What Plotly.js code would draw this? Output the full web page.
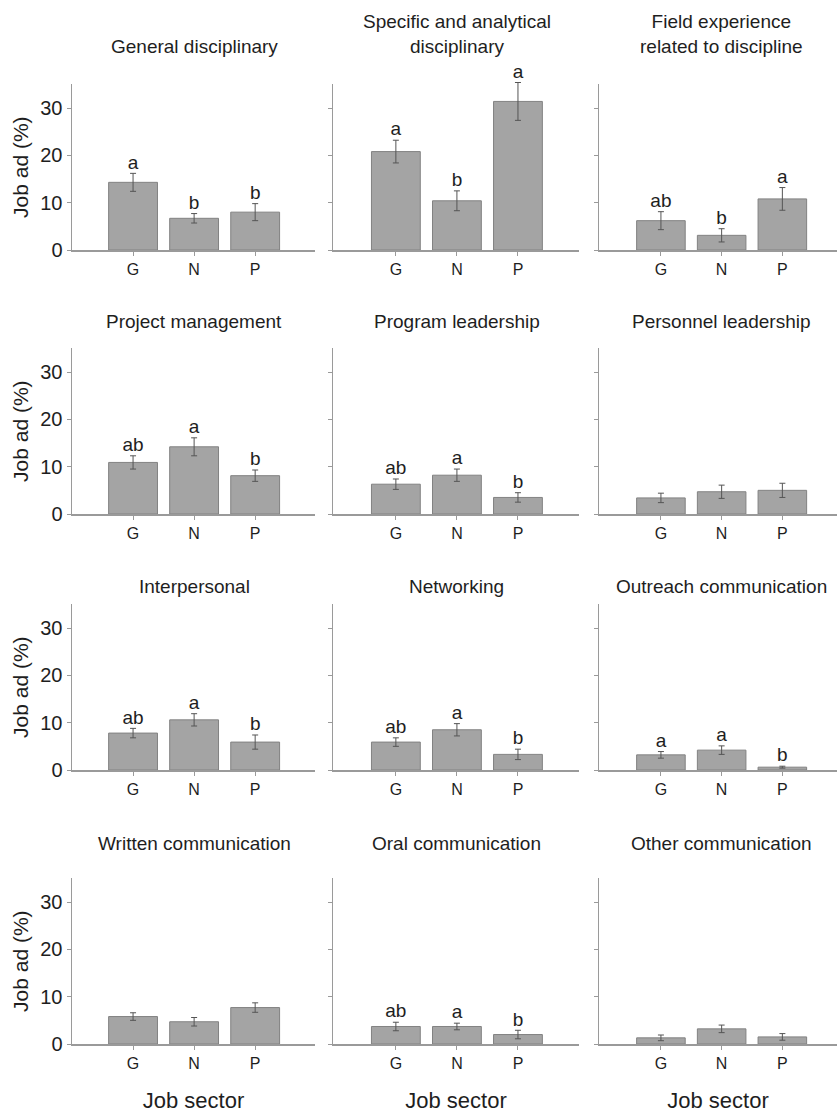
<!DOCTYPE html>
<html><head><meta charset="utf-8">
<script src="https://cdn.plot.ly/plotly-3.0.1.min.js"></script>
<style>body{margin:0;background:#fff}#chart{width:837px;height:1113px}</style>
</head><body><div id="chart"></div>
<script>
// ---- data ----
const sectors = ['G', 'N', 'P'];
const panelTitles = [
  'General disciplinary', 'Specific and analytical<br>disciplinary', 'Field experience<br>related to discipline',
  'Project management', 'Program leadership', 'Personnel leadership',
  'Interpersonal', 'Networking', 'Outreach communication',
  'Written communication', 'Oral communication', 'Other communication'
];
const generalDisciplinary      = [14.3, 6.7, 8.0];
const generalDisciplinaryErr   = [1.9, 1.0, 1.8];
const specificAnalytical       = [20.8, 10.4, 31.4];
const specificAnalyticalErr    = [2.4, 2.1, 4.0];
const fieldExperience          = [6.2, 3.1, 10.8];
const fieldExperienceErr       = [1.9, 1.4, 2.4];
const projectManagement        = [10.9, 14.2, 8.1];
const projectManagementErr     = [1.4, 1.9, 1.2];
const programLeadership        = [6.3, 8.2, 3.5];
const programLeadershipErr     = [1.1, 1.3, 1.0];
const personnelLeadership      = [3.4, 4.7, 5.0];
const personnelLeadershipErr   = [1.0, 1.4, 1.5];
const interpersonal            = [7.8, 10.6, 5.9];
const interpersonalErr         = [1.0, 1.3, 1.5];
const networking               = [5.9, 8.5, 3.3];
const networkingErr            = [0.9, 1.3, 1.1];
const outreachCommunication    = [3.2, 4.2, 0.6];
const outreachCommunicationErr = [0.7, 0.9, 0.2];
const writtenCommunication     = [5.8, 4.7, 7.7];
const writtenCommunicationErr  = [0.8, 0.9, 1.0];
const oralCommunication        = [3.7, 3.7, 2.0];
const oralCommunicationErr     = [0.9, 0.7, 0.9];
const otherCommunication       = [1.3, 3.2, 1.5];
const otherCommunicationErr    = [0.6, 0.8, 0.7];

const lettersGeneral    = ['a', 'b', 'b'];
const lettersSpecific   = ['a', 'b', 'a'];
const lettersField      = ['ab', 'b', 'a'];
const lettersProject    = ['ab', 'a', 'b'];
const lettersProgram    = ['ab', 'a', 'b'];
const lettersPersonnel  = ['', '', ''];
const lettersInterpers  = ['ab', 'a', 'b'];
const lettersNetworking = ['ab', 'a', 'b'];
const lettersOutreach   = ['a', 'a', 'b'];
const lettersWritten    = ['', '', ''];
const lettersOral       = ['ab', 'a', 'b'];
const lettersOther      = ['', '', ''];

const yTickVals = [0, 10, 20, 30];
const yAxisLabel = 'Job ad (%)';
const xAxisLabel = 'Job sector';

// ---- assemble ----
const panelMeans = [generalDisciplinary, specificAnalytical, fieldExperience, projectManagement,
  programLeadership, personnelLeadership, interpersonal, networking, outreachCommunication,
  writtenCommunication, oralCommunication, otherCommunication];
const panelErrs = [generalDisciplinaryErr, specificAnalyticalErr, fieldExperienceErr, projectManagementErr,
  programLeadershipErr, personnelLeadershipErr, interpersonalErr, networkingErr, outreachCommunicationErr,
  writtenCommunicationErr, oralCommunicationErr, otherCommunicationErr];
const panelLetters = [lettersGeneral, lettersSpecific, lettersField, lettersProject, lettersProgram,
  lettersPersonnel, lettersInterpers, lettersNetworking, lettersOutreach, lettersWritten, lettersOral, lettersOther];

const W = 837, H = 1113;
const colPx = [[72, 315], [333, 579], [599, 837]];
const colRange = [[-1, 2.98], [-1.03, 3.0], [-1.02, 2.9]];
const rowZero = [250, 514, 770, 1044];
const rowH = 165.6;          // pixel height for 0..35
const yMax = 35;
const tallH = 215;           // taller invisible axis for error bars / letters
const titleBottom = [59, 334, 599, 856];

const FONT = 'Liberation Sans, Arial, sans-serif';
const TXT = '#1e1e1e';
const AX = '#9a9a9a';

const data = [];
const layout = {
  width: W, height: H,
  margin: {l: 0, r: 0, t: 0, b: 0},
  paper_bgcolor: '#fff', plot_bgcolor: 'rgba(0,0,0,0)',
  showlegend: false,
  bargap: 0.2,
  font: {family: FONT, color: TXT},
  annotations: []
};

for (let i = 0; i < 12; i++) {
  const row = Math.floor(i / 3), col = i % 3;
  const n = i + 1;
  const xa = 'x' + (n === 1 ? '' : n), ya = 'y' + (n === 1 ? '' : n);
  const ta = 'y' + (n + 12);
  const means = panelMeans[i], errs = panelErrs[i];
  data.push({
    type: 'bar', x: sectors, y: means, xaxis: xa, yaxis: ya,
    marker: {color: '#a4a4a4', line: {color: '#828282', width: 1}},
    hoverinfo: 'skip'
  });
  data.push({
    type: 'scatter', mode: 'markers', x: sectors, y: means,
    marker: {size: 1, opacity: 0},
    error_y: {type: 'data', array: errs, visible: true, color: '#555', thickness: 1, width: 3},
    xaxis: xa, yaxis: ta, hoverinfo: 'skip'
  });
  data.push({
    type: 'scatter', mode: 'text', x: sectors,
    y: means.map((m, k) => m + errs[k]),
    text: panelLetters[i], textposition: 'top center',
    textfont: {family: FONT, size: 19, color: TXT},
    xaxis: xa, yaxis: ta, hoverinfo: 'skip'
  });
  const xKey = 'xaxis' + (n === 1 ? '' : n), yKey = 'yaxis' + (n === 1 ? '' : n);
  layout[xKey] = {
    domain: [colPx[col][0] / W, colPx[col][1] / W],
    range: colRange[col], type: 'category', anchor: ya,
    showline: true, linecolor: AX, linewidth: 1.5,
    ticks: 'outside', ticklen: 4, tickcolor: AX, tickwidth: 1,
    tickfont: {family: FONT, size: 16, color: TXT},
    showgrid: false, zeroline: false, fixedrange: true
  };
  if (row === 3) {
    layout[xKey].title = {text: xAxisLabel, font: {family: FONT, size: 22, color: TXT}, standoff: 25};
  }
  layout[yKey] = {
    domain: [1 - rowZero[row] / H, 1 - (rowZero[row] - rowH) / H],
    range: [0, yMax], anchor: xa, tickvals: yTickVals,
    showticklabels: col === 0,
    showline: true, linecolor: AX, linewidth: 1.5,
    ticks: 'outside', ticklen: 4, tickcolor: AX, tickwidth: 1,
    tickfont: {family: FONT, size: 20, color: TXT},
    showgrid: false, zeroline: false, fixedrange: true
  };
  if (col === 0) {
    layout[yKey].title = {text: yAxisLabel, font: {family: FONT, size: 21, color: TXT}, standoff: 6};
  }
  // invisible taller axis sharing the same pixel scale (0 at the same baseline)
  layout['yaxis' + (n + 12)] = {
    domain: [1 - rowZero[row] / H, 1 - (rowZero[row] - tallH) / H],
    range: [0, yMax * tallH / rowH], anchor: xa, visible: false,
    showgrid: false, zeroline: false, fixedrange: true
  };
  layout.annotations.push({
    text: panelTitles[i], xref: xa, x: 'N', yref: 'paper', y: 1 - titleBottom[row] / H,
    xanchor: 'center', yanchor: 'bottom', showarrow: false,
    font: {family: FONT, size: 19, color: TXT}
  });
}

Plotly.newPlot('chart', data, layout, {displayModeBar: false, staticPlot: true});
</script>
</body></html>
